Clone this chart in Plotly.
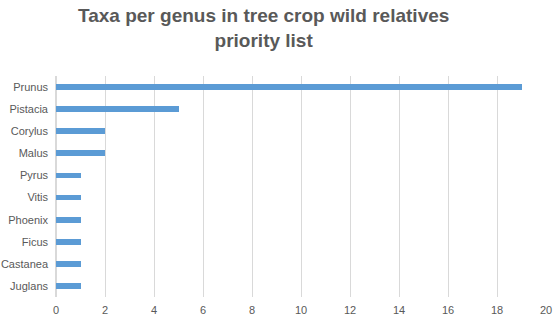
import plotly.graph_objects as go

genus = ["Prunus", "Pistacia", "Corylus", "Malus", "Pyrus",
         "Vitis", "Phoenix", "Ficus", "Castanea", "Juglans"]
taxa = [19, 5, 2, 2, 1, 1, 1, 1, 1, 1]
xticks = list(range(0, 21, 2))
title = "<b>Taxa per genus in tree crop wild relatives<br>priority list</b>"

fig = go.Figure()
fig.add_trace(go.Bar(
    y=genus, x=taxa, orientation="h",
    marker=dict(color="#5B9BD5", line=dict(width=0)),
    width=0.26,
))

fig.update_layout(
    width=553, height=317,
    paper_bgcolor="white", plot_bgcolor="white",
    margin=dict(l=56, r=7, t=76, b=20),
    font=dict(family="Liberation Sans", color="#595959", size=11),
    showlegend=False,
    bargap=0,
)
# title as an annotation so it sits where the original does
fig.add_annotation(
    text=title, xref="paper", yref="paper", x=0.424, y=1.215,
    xanchor="center", yanchor="middle", showarrow=False,
    font=dict(size=19, color="#595959"), align="center",
)
fig.update_xaxes(
    range=[0, 20], tickvals=xticks, showgrid=True, gridcolor="#D9D9D9",
    gridwidth=1, zeroline=True, zerolinecolor="#D9D9D9", showline=False,
    ticks="", ticklabelstandoff=5, fixedrange=True, automargin=False,
)
fig.update_yaxes(
    categoryorder="array", categoryarray=genus[::-1],
    showgrid=False, zeroline=False, showline=False, ticks="",
    ticklabelstandoff=7, fixedrange=True, automargin=False,
)

# drop the default body margin so the figure fills the window
fig.write_html("out.html", config={"displayModeBar": False},
               post_script="document.body.style.margin='0';")
